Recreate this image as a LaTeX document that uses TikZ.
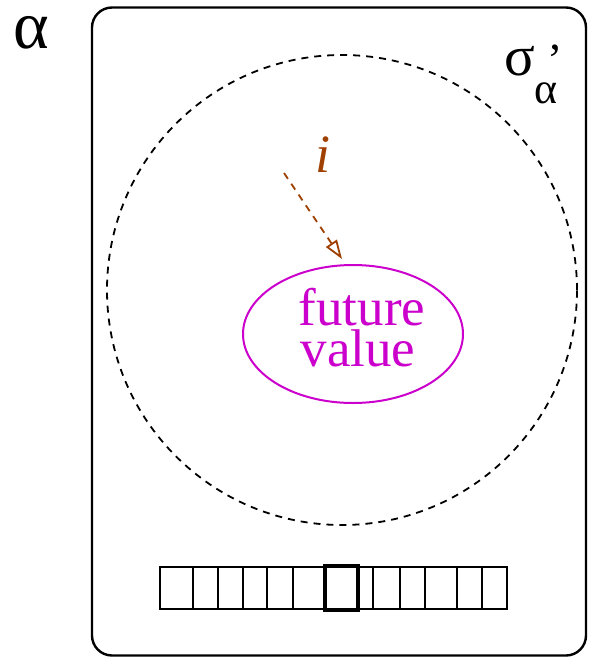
\documentclass[tikz,border=0pt]{standalone}
\usepackage{fontspec}
\setmainfont{Liberation Serif}
\usetikzlibrary{shapes.geometric,arrows.meta}
\definecolor{fvmag}{RGB}{204,0,204}
\definecolor{ibrown}{RGB}{160,64,0}
\begin{document}
\begin{tikzpicture}[x=1pt,y=-1pt,
  framebox/.style={draw,line width=2.4pt,rounded corners=20pt},
  scopecircle/.style={draw,line width=1.8pt,dash pattern=on 7pt off 6pt},
  fvnode/.style={draw=fvmag,ellipse,line width=2pt,minimum width=220pt,minimum height=138pt,inner sep=0pt},
  fvtext/.style={text=fvmag,inner sep=0pt,anchor=base,font=\fontsize{53}{53}\selectfont},
  cellline/.style={line width=2pt},
  curcell/.style={draw,line width=4pt},
  flowarrow/.style={draw=ibrown,line width=1.8pt,dash pattern=on 7pt off 6pt,-{Triangle[open,length=19pt,width=13pt,line width=1.8pt]}}]
\useasboundingbox (0,0) rectangle (592,662);
\fill[white] (0,0) rectangle (592,662);
\node[framebox,minimum width=494pt,minimum height=648pt,inner sep=0pt] (frame) at (339,331.5) {};
\node[scopecircle,circle,minimum size=470pt,inner sep=0pt] (scope) at (342,290) {};
\node[fvnode] (fv) at (353,334) {};
\node[fvtext] (fut) at (362,325) {future};
\node[fvtext] (val) at (358,366) {value};
\node[inner sep=0pt,anchor=base,font=\fontsize{68}{68}\selectfont] (alpha) at (31,48) {α};
\node[inner sep=0pt,anchor=base,font=\fontsize{57}{57}\selectfont] (sigma) at (520,75) {σ};
\node[inner sep=0pt,anchor=base,font=\fontsize{46}{46}\selectfont] (prime) at (555,75) {’};
\node[inner sep=0pt,anchor=base,font=\fontsize{44}{44}\selectfont] (sub) at (546,103) {α};
\node[inner sep=0pt,anchor=base,text=ibrown,font=\itshape\fontsize{54}{54}\selectfont] (ilab) at (323,172) {i};
\coordinate (astart) at (284,173);
\coordinate (aend) at (342,259);
\draw[flowarrow] (astart) -- (aend);
% memory strip
\draw[cellline] (160,567) rectangle (507,609);
\foreach \x in {193,218,243,267,293,373,400,425,457,482}
  \draw[cellline] (\x,567) -- (\x,609);
\node[curcell,minimum width=33pt,minimum height=44pt,inner sep=0pt] (cur) at (341.5,588) {};
\end{tikzpicture}
\end{document}
